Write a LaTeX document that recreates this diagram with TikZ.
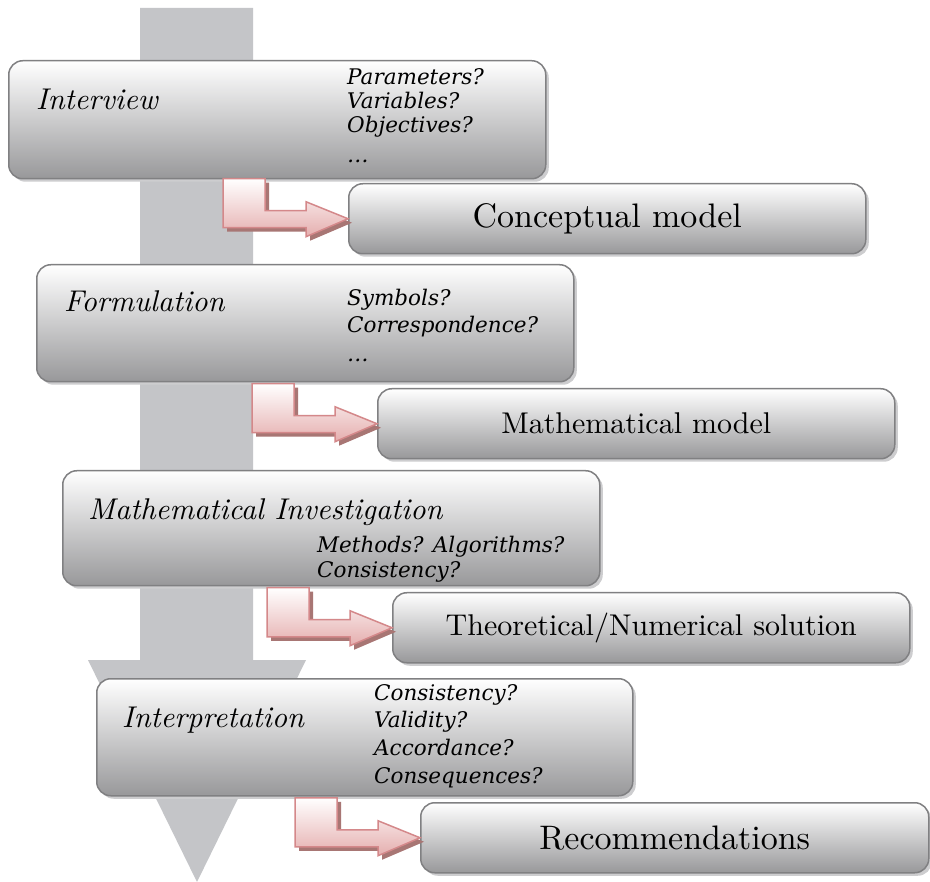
\documentclass[tikz,border=0pt]{standalone}
\usepackage{fontspec}
\setmainfont{lmroman10-regular.otf}[ItalicFont=lmroman10-italic.otf, BoldFont=lmroman10-bold.otf, BoldItalicFont=lmroman10-bolditalic.otf]
\newfontfamily\qfont{DejaVu Serif}
\usetikzlibrary{shadows}
\definecolor{shaftgray}{RGB}{196,197,200}
\definecolor{boxborder}{RGB}{128,128,130}
\definecolor{boxbottom}{RGB}{152,152,154}
\definecolor{boxshadow}{RGB}{205,205,207}
\definecolor{arrowborder}{RGB}{212,136,138}
\definecolor{arrowbottom}{RGB}{229,174,174}
\definecolor{arrowshadow}{RGB}{168,118,116}
\tikzset{
  stagebox/.style={draw=boxborder, line width=1.5pt, rounded corners=14pt,
    top color=white, bottom color=boxbottom, anchor=north west, inner sep=0pt,
    drop shadow={shadow xshift=3pt, shadow yshift=-3pt, fill=boxshadow, opacity=1}},
  resultbox/.style={stagebox, minimum width=517pt, minimum height=70pt},
  bigresult/.style={font=\fontsize{34}{40}\selectfont},
  midresult/.style={font=\fontsize{30}{36}\selectfont},
  titletext/.style={anchor=base west, inner sep=0pt, font=\fontsize{30}{35}\selectfont\itshape},
  qtext/.style={anchor=base west, inner sep=0pt, font=\qfont\fontsize{21.5}{26}\selectfont\itshape},
  arrowbody/.style={draw=arrowborder, line width=1.5pt, line join=miter,
    top color=white, bottom color=arrowbottom},
  bentarrow/.pic={
    \fill[arrowshadow, shift={(4,4)}] (-125,-40) -- (-83,-40) -- (-83,-8) -- (-42,-8) -- (-42,-17)
      -- (0,0) -- (-42,18) -- (-42,9) -- (-125,9) -- cycle;
    \path[arrowbody] (-125,-40) -- (-83,-40) -- (-83,-8) -- (-42,-8) -- (-42,-17)
      -- (0,0) -- (-42,18) -- (-42,9) -- (-125,9) -- cycle;
  }
}
\begin{document}
\begin{tikzpicture}[x=1pt, y=-1pt]
\useasboundingbox (0,0) rectangle (930,882);
\fill[white] (0,0) rectangle (930,882);
% big background arrow
\fill[shaftgray] (140,8) -- (253,8) -- (253,660) -- (306,660) -- (197,882)
  -- (88,660) -- (140,660) -- cycle;

% stage 1
\node[stagebox, minimum width=537pt, minimum height=118pt] (s1) at (8,60) {};
\node[titletext] (t1) at (36,110) {Interview};
\node[qtext] (q1a) at (347,85) {Parameters?};
\node[qtext] (q1b) at (347,109) {Variables?};
\node[qtext] (q1c) at (347,133) {Objectives?};
\node[qtext] (q1d) at (347,163) {\ldots};
\node[resultbox, bigresult] (r1) at (348,183) {Conceptual model};

% stage 2
\node[stagebox, minimum width=537pt, minimum height=117pt] (s2) at (36,264) {};
\node[titletext] (t2) at (64,312) {Formulation};
\node[qtext] (q2a) at (347,306) {Symbols?};
\node[qtext] (q2b) at (347,333) {Correspondence?};
\node[qtext] (q2c) at (347,362) {\ldots};
\node[resultbox, midresult] (r2) at (377,388) {Mathematical model};

% stage 3
\node[stagebox, minimum width=537pt, minimum height=115pt] (s3) at (62,470) {};
\node[titletext] (t3) at (88,520) {Mathematical Investigation};
\node[qtext] (q3a) at (317,553) {Methods? Algorithms?};
\node[qtext] (q3b) at (317,578) {Consistency?};
\node[resultbox, midresult] (r3) at (392,592) {Theoretical/Numerical solution};

% stage 4
\node[stagebox, minimum width=536pt, minimum height=117pt] (s4) at (96,678) {};
\node[titletext] (t4) at (122,727) {Interpretation};
\node[qtext] (q4a) at (374,700) {Consistency?};
\node[qtext] (q4b) at (374,727) {Validity?};
\node[qtext] (q4c) at (374,755) {Accordance?};
\node[qtext] (q4d) at (374,783) {Consequences?};
\node[resultbox, bigresult, minimum width=508pt] (r4) at (420,802) {Recommendations};

% bent arrows from stage to result
\pic at (r1.west) {bentarrow};
\pic at (r2.west) {bentarrow};
\pic at (r3.west) {bentarrow};
\pic at (r4.west) {bentarrow};
\end{tikzpicture}
\end{document}
